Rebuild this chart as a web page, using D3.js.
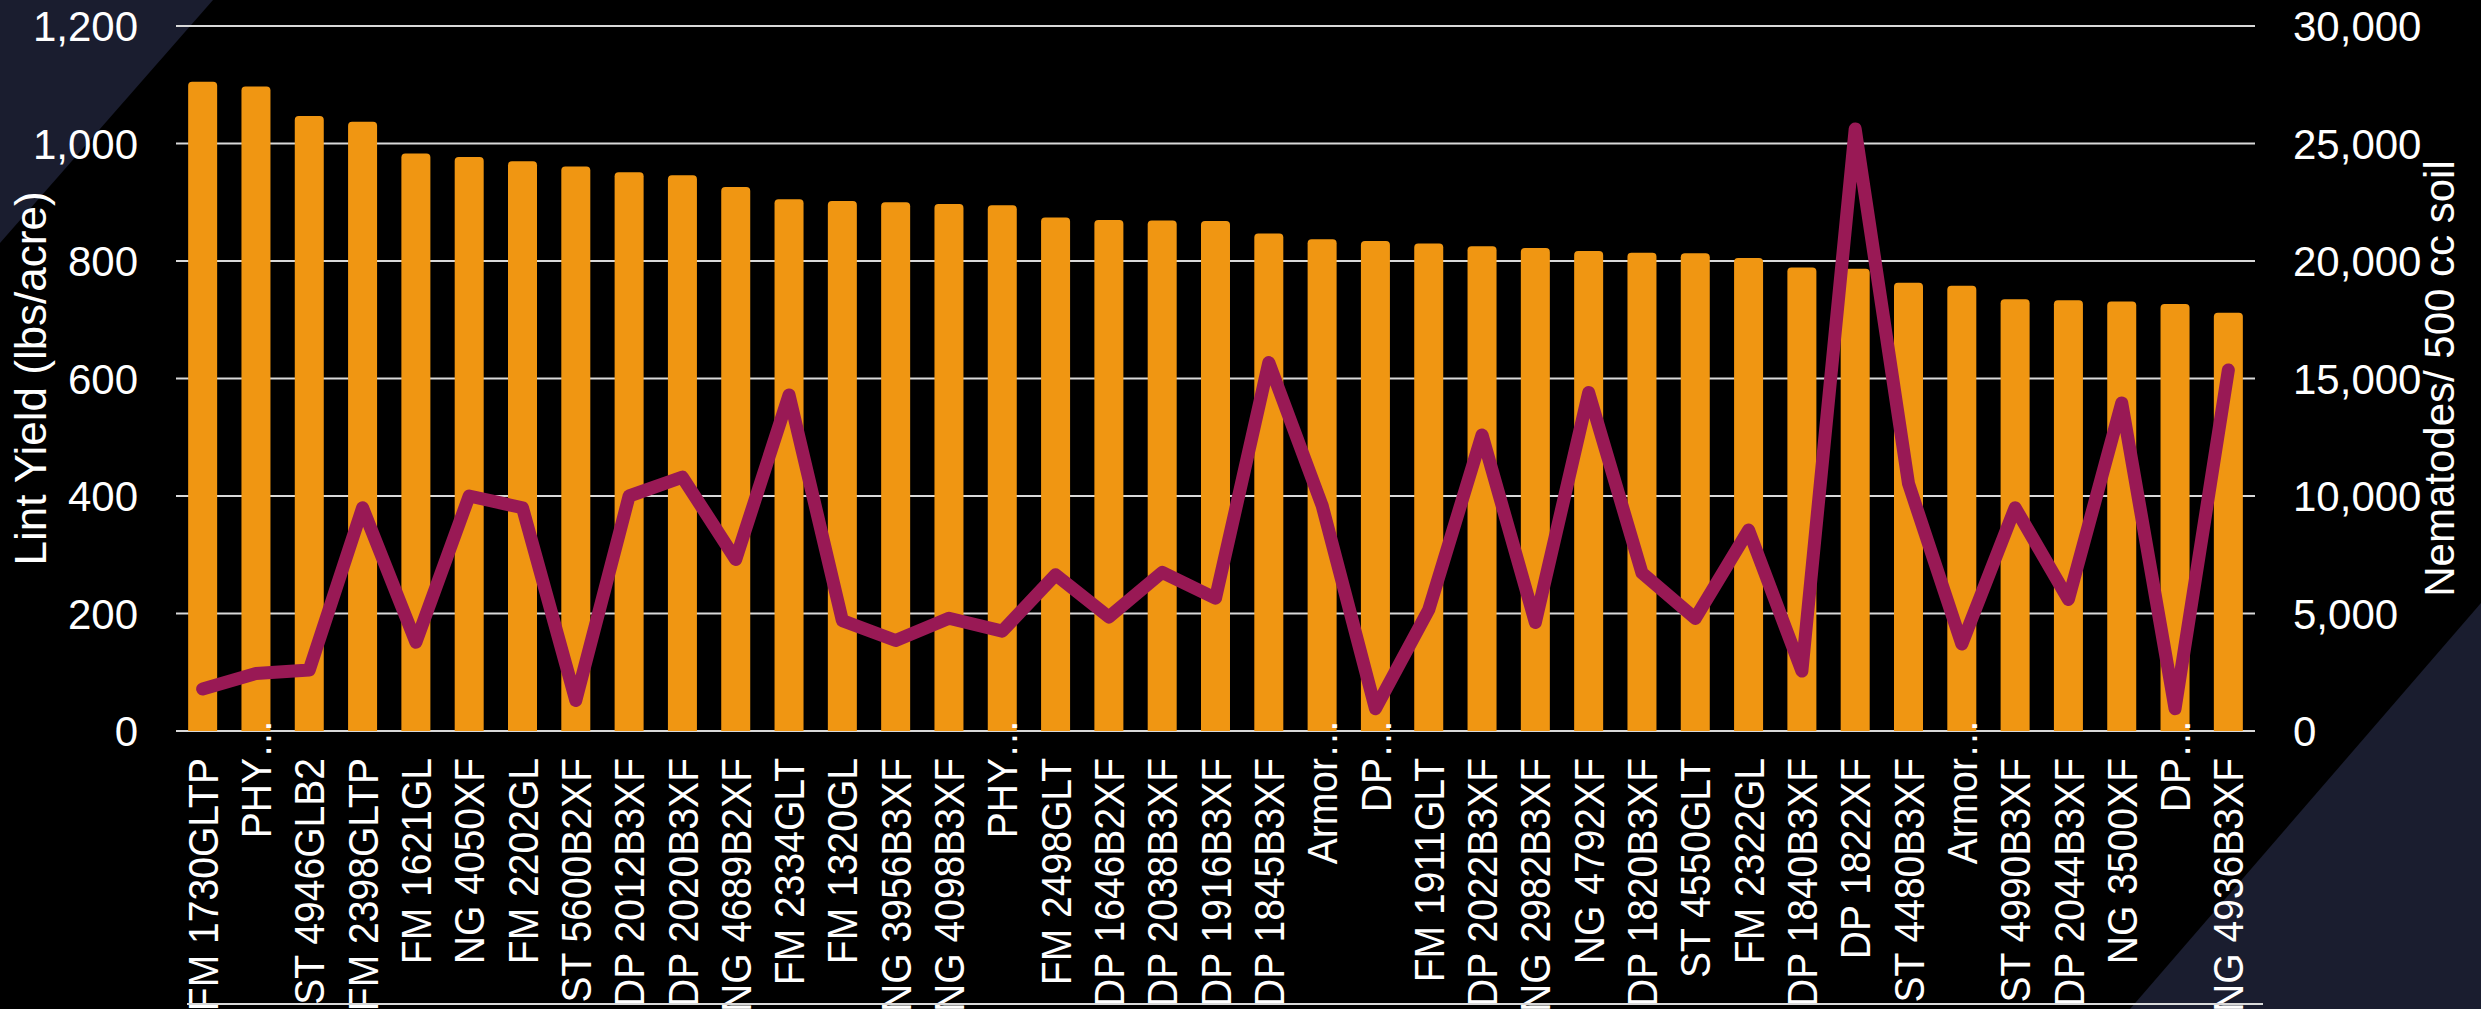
<!DOCTYPE html>
<html>
<head>
<meta charset="utf-8">
<script src="https://cdn.jsdelivr.net/npm/d3@7"></script>
<style>
  html, body { margin: 0; padding: 0; background: #000; }
  svg { display: block; }
</style>
</head>
<body>
<svg id="chart" width="2481" height="1009"></svg>
<script>
// ---- Data ----
const categories = ["FM 1730GLTP","PHY…","ST 4946GLB2","FM 2398GLTP","FM 1621GL","NG 4050XF","FM 2202GL","ST 5600B2XF","DP 2012B3XF","DP 2020B3XF","NG 4689B2XF","FM 2334GLT","FM 1320GL","NG 3956B3XF","NG 4098B3XF","PHY…","FM 2498GLT","DP 1646B2XF","DP 2038B3XF","DP 1916B3XF","DP 1845B3XF","Armor…","DP…","FM 1911GLT","DP 2022B3XF","NG 2982B3XF","NG 4792XF","DP 1820B3XF","ST 4550GLT","FM 2322GL","DP 1840B3XF","DP 1822XF","ST 4480B3XF","Armor…","ST 4990B3XF","DP 2044B3XF","NG 3500XF","DP…","NG 4936B3XF"];
const lintYield = [1105,1097,1047,1037,983,977,970,961,951,946,926,905,902,900,897,895,874,870,869,868,847,837,834,830,825,822,817,814,813,805,789,787,763,758,735,733,731,727,712];
const nematodes = [1790,2450,2600,9500,3780,10000,9500,1300,10000,10800,7300,14300,4700,3850,4800,4250,6650,4850,6750,5650,15680,9600,950,5160,12600,4620,14400,6730,4790,8550,2550,25620,10530,3700,9500,5600,13960,950,15360];
const leftTicks = [0,200,400,600,800,1000,1200];
const rightTicks = [0,5000,10000,15000,20000,25000,30000];
const leftTitle = "Lint Yield (lbs/acre)";
const rightTitle = "Nematodes/ 500 cc soil";

// ---- Layout ----
const W = 2481, H = 1009;
const plot = {left: 176, right: 2255, top: 26, bottom: 731};
const FONT = "'Liberation Sans', Arial, sans-serif";
const barColor = "#F09612";
const lineColor = "#991955";
const gridColor = "#D9D9D9";
const navy = "#1A1D2F";

const svg = d3.select("#chart");
svg.append("rect").attr("width", W).attr("height", H).attr("fill", "#000");
// corner decorations
svg.append("path").attr("d", `M0,0 L213,0 L0,243 Z`).attr("fill", navy);
svg.append("path").attr("d", `M${W},603 L${W},${H} L2130,${H} Z`).attr("fill", navy);

const x = d3.scaleBand().domain(d3.range(categories.length))
  .range([plot.left, plot.right]).paddingInner(0.456).paddingOuter(0.228);
const yL = d3.scaleLinear().domain([0, 1200]).range([plot.bottom, plot.top]);
const yR = d3.scaleLinear().domain([0, 30000]).range([plot.bottom, plot.top]);

// gridlines
svg.append("g").selectAll("line").data(leftTicks).join("line")
  .attr("x1", plot.left).attr("x2", plot.right)
  .attr("y1", d => yL(d)).attr("y2", d => yL(d))
  .attr("stroke", gridColor).attr("stroke-width", 2);

// bars with rounded tops
const r = 4;
svg.append("g").selectAll("path").data(lintYield).join("path")
  .attr("d", (d, i) => {
    const x0 = x(i), w = x.bandwidth(), y0 = yL(d), yb = yL(0);
    return `M${x0},${yb} L${x0},${y0 + r} Q${x0},${y0} ${x0 + r},${y0} L${x0 + w - r},${y0} Q${x0 + w},${y0} ${x0 + w},${y0 + r} L${x0 + w},${yb} Z`;
  })
  .attr("fill", barColor);

// line
const line = d3.line().x((d, i) => x(i) + x.bandwidth() / 2).y(d => yR(d));
svg.append("path").datum(nematodes).attr("d", line)
  .attr("fill", "none").attr("stroke", lineColor).attr("stroke-width", 13)
  .attr("stroke-linejoin", "round").attr("stroke-linecap", "round");

// left axis labels
svg.append("g").selectAll("text").data(leftTicks).join("text")
  .attr("x", 138).attr("y", d => yL(d)).attr("dy", "0.36em")
  .attr("text-anchor", "end").attr("font-family", FONT).attr("font-size", 42)
  .attr("fill", "#fff").text(d => d3.format(",")(d));

// right axis labels
svg.append("g").selectAll("text").data(rightTicks).join("text")
  .attr("x", 2293).attr("y", d => yR(d)).attr("dy", "0.36em")
  .attr("text-anchor", "start").attr("font-family", FONT).attr("font-size", 42)
  .attr("fill", "#fff").text(d => d3.format(",")(d));

// axis titles
svg.append("text").attr("transform", `translate(46,${(plot.top + plot.bottom) / 2}) rotate(-90)`)
  .attr("text-anchor", "middle").attr("font-family", FONT).attr("font-size", 44)
  .attr("fill", "#fff").text(leftTitle);
svg.append("text").attr("transform", `translate(2454,${(plot.top + plot.bottom) / 2}) rotate(-90)`)
  .attr("text-anchor", "middle").attr("font-family", FONT).attr("font-size", 42)
  .attr("fill", "#fff").text(rightTitle);

// category labels
const labelTop = 758;
const lab = svg.append("g");
categories.forEach((c, i) => {
  const cx = x(i) + x.bandwidth() / 2;
  const trunc = c.endsWith("…");
  const main = trunc ? c.slice(0, -1) : c;
  const g = lab.append("g").attr("transform", `translate(${cx},${labelTop}) rotate(-90) scale(0.93,1)`);
  g.append("text").attr("text-anchor", "end").attr("dy", "0.36em")
    .attr("font-family", FONT).attr("font-size", 42).attr("fill", "#fff").text(main);
  if (trunc) {
    g.append("text").attr("text-anchor", "start").attr("dy", "0.36em")
      .attr("font-family", FONT).attr("font-size", 42).attr("fill", "#fff").text("…");
  }
});

// bottom border line
svg.append("line").attr("x1", 187).attr("x2", 2263).attr("y1", 1004).attr("y2", 1004)
  .attr("stroke", gridColor).attr("stroke-width", 2);
</script>
</body>
</html>
